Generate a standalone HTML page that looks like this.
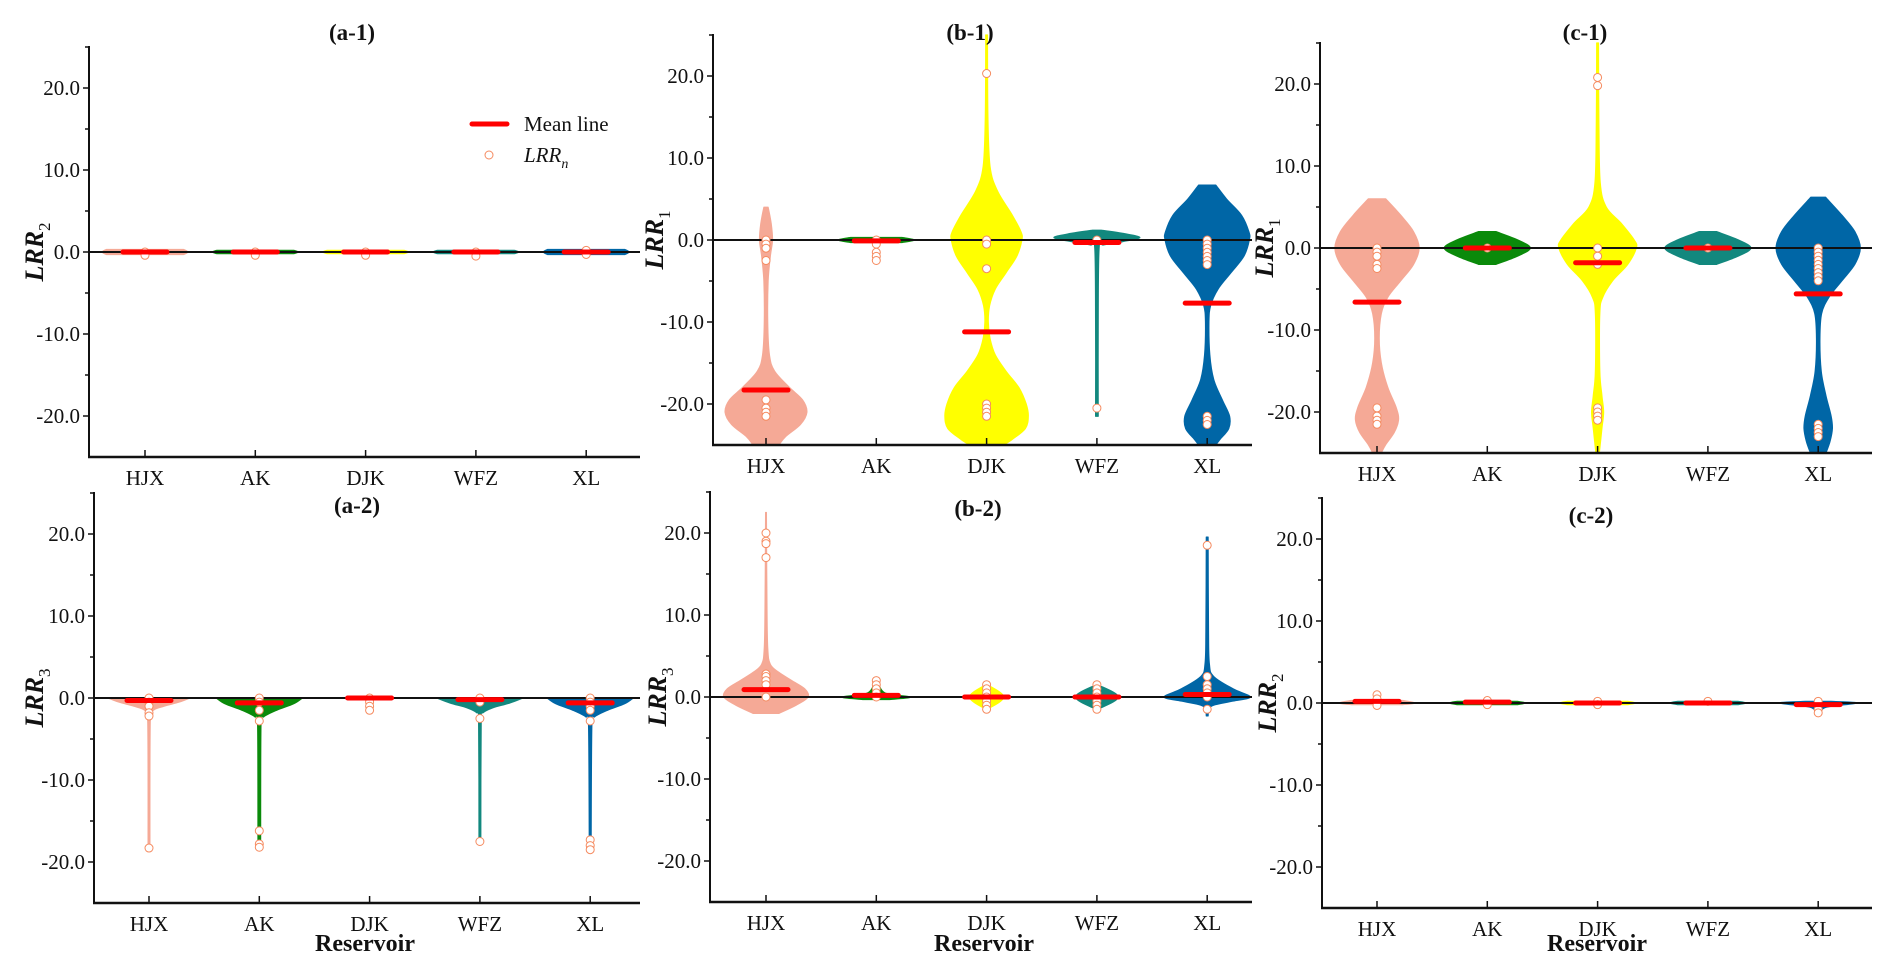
<!DOCTYPE html>
<html><head><meta charset="utf-8">
<style>
html,body{margin:0;padding:0;background:#fff;}
svg{display:block;font-family:"Liberation Serif",serif;}
</style></head>
<body>
<svg id="chart" width="1892" height="975" viewBox="0 0 1892 975" xmlns="http://www.w3.org/2000/svg"></svg>
<script>
// ---------- data ----------
const categories = ["HJX","AK","DJK","WFZ","XL"];
const yTicks = [20,10,0,-10,-20];
const yTickLabels = ["20.0","10.0","0.0","-10.0","-20.0"];
const minorTicks = [25,15,5,-5,-15];

// mean values per panel
const meansA1 = [0,0,0,0,0];
const meansB1 = [-18.3,-0.1,-11.2,-0.3,-7.7];
const meansC1 = [-6.6,0,-1.8,0,-5.6];
const meansA2 = [-0.3,-0.6,0,-0.2,-0.6];
const meansB2 = [0.9,0.2,0,0,0.3];
const meansC2 = [0.2,0.1,0,0,-0.2];

// observation points per panel
const pointsA1 = [[0,-0.4],[0,-0.4],[0,-0.4],[0,-0.5],[0.2,-0.3]];
const pointsB1 = [[0,-0.5,-1,-2.5,-19.5,-20.5,-21,-21.5],[0,-0.5,-1.5,-2,-2.5],[20.3,0,-0.5,-3.5,-20,-20.5,-21,-21.5],[0,-20.5],[0,-0.5,-1,-1.5,-2,-2.5,-3,-21.5,-22,-22.5]];
const pointsC1 = [[0,-0.5,-1,-2,-2.5,-19.5,-20.5,-21,-21.5],[0],[20.8,19.8,0,-1,-2,-19.5,-20,-20.5,-21],[0],[0,-0.5,-1,-1.5,-2,-2.5,-3,-3.5,-4,-21.5,-22,-22.5,-23]];
const pointsA2 = [[0,-0.5,-1,-1.8,-2.2,-18.3],[0,-0.5,-1.5,-2.8,-16.2,-17.8,-18.2],[0,-0.5,-1,-1.5],[0,-0.5,-2.5,-17.5],[0,-0.5,-1,-1.5,-2.8,-17.3,-18,-18.5]];
const pointsB2 = [[20,19,18.7,17,2.8,2.5,2,1.5,0],[2,1.5,1,0.5,0],[1.5,1,0.5,0,-0.5,-1,-1.5],[1.5,1,0.5,0,-0.5,-1,-1.5],[18.5,2.5,1.5,1,0.5,0,-1.5]];
const pointsC2 = [[1,0.5,-0.3],[0.3,-0.2],[0.2,-0.2],[0.2],[0.2,-0.8,-1.2]];

// violin density profiles: [value, relative density]
const profA1 = [[[0.3,0.9],[0,1],[-0.3,0.9]],[[0.2,0.9],[0,1],[-0.2,0.9]],[[0.2,0.9],[0,1],[-0.2,0.9]],[[0.2,0.9],[0,1],[-0.2,0.9]],[[0.3,0.9],[0,1],[-0.3,0.9]]];
const profB1 = [
 [[4,0.05],[2,0.12],[0,0.15],[-2,0.1],[-5,0.05],[-10,0.04],[-14,0.08],[-16,0.2],[-18,0.55],[-19.5,0.85],[-21,0.95],[-22.5,0.8],[-24,0.45],[-25,0.3]],
 [[0.3,0.6],[0,0.9],[-0.3,0.6]],
 [[25,0.02],[15,0.03],[9,0.08],[6,0.25],[3,0.6],[1,0.8],[0,0.82],[-2,0.7],[-4,0.45],[-6,0.2],[-8,0.07],[-10,0.04],[-12,0.08],[-14,0.2],[-16,0.45],[-18,0.75],[-20,0.92],[-21.5,0.97],[-23,0.9],[-24.3,0.6],[-25,0.4]],
 [[1.2,0.1],[0.8,0.6],[0.3,1.0],[-0.2,0.6],[-0.6,0.15],[-1,0.05],[-10,0.03],[-21.5,0.03]],
 [[6.7,0.2],[5,0.45],[3,0.8],[1,0.97],[0,0.98],[-2,0.85],[-4,0.55],[-6,0.25],[-8,0.08],[-10,0.04],[-14,0.06],[-17,0.15],[-19.5,0.35],[-21.5,0.52],[-23,0.5],[-24.3,0.3],[-25,0.2]]
];
const profC1 = [
 [[6,0.2],[4,0.55],[2,0.85],[0,0.98],[-2,0.85],[-4,0.55],[-6,0.25],[-8,0.1],[-11,0.05],[-14,0.1],[-17,0.25],[-19.5,0.45],[-21,0.5],[-22.5,0.4],[-24,0.2],[-25,0.1]],
 [[2,0.2],[1,0.7],[0,1.0],[-1,0.7],[-2,0.2]],
 [[25,0.02],[15,0.03],[8,0.06],[5,0.2],[3,0.55],[1,0.85],[0,0.9],[-2,0.7],[-4,0.35],[-6,0.12],[-8,0.05],[-15,0.05],[-18,0.1],[-20,0.14],[-22,0.1],[-25,0.04]],
 [[2,0.2],[1,0.7],[0,1.0],[-1,0.7],[-2,0.2]],
 [[6.2,0.17],[4,0.55],[2,0.85],[0,0.98],[-2,0.85],[-4,0.55],[-6,0.25],[-8,0.08],[-11,0.04],[-15,0.07],[-18,0.18],[-20.5,0.3],[-22,0.33],[-23.5,0.28],[-25,0.18]]
];
const profA2 = [
 [[0,0.95],[-0.5,0.7],[-1,0.35],[-1.5,0.1],[-2.5,0.03],[-18.5,0.02]],
 [[0,1],[-0.7,0.8],[-1.5,0.4],[-2.3,0.1],[-3,0.04],[-18,0.03]],
 [[0.1,0.3],[0,0.5],[-0.2,0.3]],
 [[0,1],[-0.6,0.7],[-1.2,0.3],[-1.8,0.07],[-2.5,0.03],[-17.5,0.02]],
 [[0,1],[-0.7,0.8],[-1.5,0.4],[-2.3,0.1],[-3,0.04],[-18.5,0.02]]
];
const profB2 = [
 [[22.5,0.01],[12,0.02],[6,0.04],[4,0.1],[3,0.3],[2,0.6],[1,0.9],[0,0.98],[-1,0.7],[-2,0.3]],
 [[2,0.03],[0.5,0.2],[0,0.8],[-0.3,0.3]],
 [[1.5,0.02],[0,0.4],[-1.5,0.02]],
 [[1.5,0.02],[0,0.5],[-1.5,0.02]],
 [[19.5,0.02],[8,0.03],[4,0.05],[2.5,0.15],[1,0.6],[0,1.0],[-0.5,0.6],[-1,0.15],[-1.5,0.04],[-2.3,0.02]]
];
const profC2 = [[[0.3,0.6],[0,0.9],[-0.2,0.6]],[[0.2,0.7],[0,0.9],[-0.2,0.7]],[[0.2,0.7],[0,0.9],[-0.2,0.7]],[[0.2,0.7],[0,0.9],[-0.2,0.7]],[[0.2,0.3],[0,0.9],[-0.5,0.2],[-1.2,0.03]]];

// ---------- rendering ----------
const NS = "http://www.w3.org/2000/svg";
const svg = document.getElementById("chart");
const colors = ["#f5a996","#0a8a0a","#ffff00","#12887e","#0066a6"];
function mk(tag, attrs, parent){
  const e = document.createElementNS(NS, tag);
  for (const k in attrs) e.setAttribute(k, attrs[k]);
  (parent||svg).appendChild(e);
  return e;
}
function smooth(pts, start){
  // Catmull-Rom to cubic bezier
  let d = start ? "M" + pts[0][0].toFixed(1) + "," + pts[0][1].toFixed(1) : "L" + pts[0][0].toFixed(1) + "," + pts[0][1].toFixed(1);
  for (let i = 0; i < pts.length-1; i++) {
    const p0 = pts[Math.max(i-1,0)], p1 = pts[i], p2 = pts[i+1], p3 = pts[Math.min(i+2,pts.length-1)];
    const c1x = p1[0] + (p2[0]-p0[0])/6, c1y = p1[1] + (p2[1]-p0[1])/6;
    const c2x = p2[0] - (p3[0]-p1[0])/6, c2y = p2[1] - (p3[1]-p1[1])/6;
    d += "C" + c1x.toFixed(1) + "," + c1y.toFixed(1) + " " + c2x.toFixed(1) + "," + c2y.toFixed(1) + " " + p2[0].toFixed(1) + "," + p2[1].toFixed(1);
  }
  return d;
}
const panels = [
 {id:"a-1", ax:89, end:640, zero:252, first:145, tx:352, ty:32, lx:34, lab:"2", means:meansA1, pts:pointsA1, prof:profA1},
 {id:"b-1", ax:713, end:1252, zero:240, first:766, tx:970, ty:32, lx:654, lab:"1", means:meansB1, pts:pointsB1, prof:profB1},
 {id:"c-1", ax:1320, end:1872, zero:248, first:1377, tx:1585, ty:32, lx:1264, lab:"1", means:meansC1, pts:pointsC1, prof:profC1},
 {id:"a-2", ax:94, end:640, zero:698, first:149, tx:357, ty:505, lx:34, lab:"3", means:meansA2, pts:pointsA2, prof:profA2, res:365},
 {id:"b-2", ax:710, end:1252, zero:697, first:766, tx:978, ty:508, lx:657, lab:"3", means:meansB2, pts:pointsB2, prof:profB2, res:984},
 {id:"c-2", ax:1322, end:1872, zero:703, first:1377, tx:1591, ty:515, lx:1267, lab:"2", means:meansC2, pts:pointsC2, prof:profC2, res:1597}
];
const SCALE = 8.2, STEP = 110.3, HALF = 43;

panels.forEach(p => {
  const g = mk("g", {});
  
  
  const y = v => p.zero - v*SCALE;
  const x = i => p.first + i*STEP;
  const top = y(25), bot = y(-25);

  // violins
  p.prof.forEach((prof, i) => {
    const cx = x(i);
    const right = prof.map(pt => [cx + pt[1]*HALF, y(pt[0])]);
    const left = prof.slice().reverse().map(pt => [cx - pt[1]*HALF, y(pt[0])]);
    const d = smooth(right, true) + smooth(left, false) + "Z";
    const v = mk("path", {d:d, fill:colors[i], stroke:colors[i], "stroke-width":1.2, "stroke-linejoin":"round"}, g);
    
    
  });

  // zero line
  const zl = mk("line", {x1:p.ax, x2:p.end, y1:y(0), y2:y(0), stroke:"#111", "stroke-width":2}, g);
  
  

  // points
  p.pts.forEach((arr, i) => {
    arr.forEach(v => {
      const c = mk("circle", {cx:x(i), cy:y(v), r:4, fill:"#fff", stroke:"#f58a5f", "stroke-width":1}, g);
      
      
    });
  });

  // means
  p.means.forEach((m, i) => {
    const l = mk("line", {x1:x(i)-22, x2:x(i)+22, y1:y(m), y2:y(m), stroke:"#ff0000", "stroke-width":5, "stroke-linecap":"round"}, g);
    
    
  });

  // axes
  const ya = mk("line", {x1:p.ax, x2:p.ax, y1:top-1, y2:bot+1, stroke:"#111", "stroke-width":2}, g);
  
  
  const xa = mk("line", {x1:p.ax-1, x2:p.end, y1:bot, y2:bot, stroke:"#111", "stroke-width":2.5}, g);
  
  

  yTicks.forEach((t, k) => {
    mk("line", {x1:p.ax-6, x2:p.ax, y1:y(t), y2:y(t), stroke:"#111", "stroke-width":1.5}, g);
    const tl = mk("text", {x:p.ax-9, y:y(t)+7, "text-anchor":"end", "font-size":21, fill:"#111"}, g);
    tl.textContent = yTickLabels[k];
    
    
  });
  minorTicks.forEach(t => {
    mk("line", {x1:p.ax-4, x2:p.ax, y1:y(t), y2:y(t), stroke:"#111", "stroke-width":1.5}, g);
  });
  categories.forEach((c, i) => {
    mk("line", {x1:x(i), x2:x(i), y1:bot-7, y2:bot, stroke:"#111", "stroke-width":1.5}, g);
    const cl = mk("text", {x:x(i), y:bot+28, "text-anchor":"middle", "font-size":21, fill:"#111"}, g);
    cl.textContent = c;
    
    
  });

  // title
  const t = mk("text", {x:p.tx, y:p.ty+8, "text-anchor":"middle", "font-size":23, "font-weight":"bold", fill:"#111"}, g);
  t.textContent = "(" + p.id + ")";
  
  

  // y-axis title
  const yt = mk("text", {x:0, y:0, "text-anchor":"middle", "font-size":26, "font-weight":"bold", "font-style":"italic", fill:"#111", transform:"translate(" + (p.lx+9) + "," + y(0) + ") rotate(-90)"}, g);
  yt.innerHTML = 'LRR<tspan font-size="17" font-style="normal" font-weight="normal" dy="7">' + p.lab + '</tspan>';
  
  

  if (p.res) {
    const rt = mk("text", {x:p.res, y:951, "text-anchor":"middle", "font-size":24, "font-weight":"bold", fill:"#111"}, g);
    rt.textContent = "Reservoir";
    
    
  }
});

// legend
const lg = mk("g", {});


const l1 = mk("line", {x1:472, x2:507, y1:124, y2:124, stroke:"#ff0000", "stroke-width":5, "stroke-linecap":"round"}, lg);


const lt1 = mk("text", {x:524, y:131, "font-size":21, fill:"#111"}, lg);
lt1.textContent = "Mean line";


const lc = mk("circle", {cx:489, cy:155, r:4, fill:"#fff", stroke:"#f58a5f", "stroke-width":1}, lg);


const lt2 = mk("text", {x:524, y:162, "font-size":21, "font-style":"italic", fill:"#111"}, lg);
lt2.innerHTML = 'LRR<tspan font-size="14" dy="6">n</tspan>';


</script>
</body></html>
